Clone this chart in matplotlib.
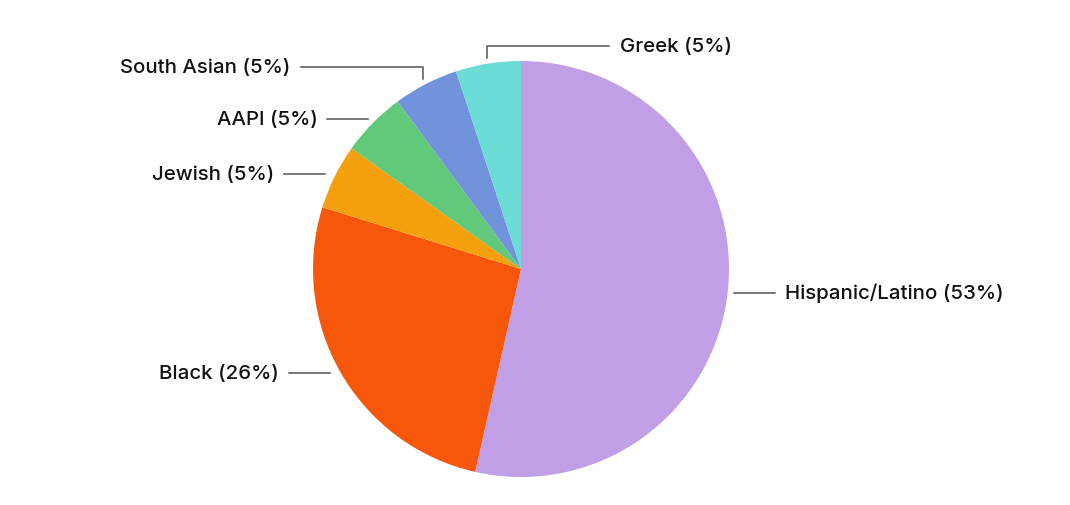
import numpy as np
import matplotlib.pyplot as plt

plt.rcParams["font.family"] = ["Inter", "DejaVu Sans"]

# data
groups = ["Hispanic/Latino", "Black", "Jewish", "AAPI", "South Asian", "Greek"]
shares = [53, 26, 5, 5, 5, 5]
colors = ["#C19FE6", "#F7570B", "#F5A00E", "#62C97A", "#7093DB", "#6CDCD6"]

W, H = 1070, 506
CX, CY, R = 521, H - 270, 208

fig = plt.figure(figsize=(W / 100, H / 100), dpi=100)
ax = fig.add_axes([0, 0, 1, 1])

wedges, _ = ax.pie(shares, colors=colors, startangle=90, counterclock=False,
                   center=(CX, CY), radius=R, frame=True,
                   wedgeprops=dict(linewidth=0))
ax.set_xlim(0, W)
ax.set_ylim(0, H)
ax.set_aspect("equal")
ax.axis("off")

line_kw = dict(color="#555555", lw=1.1)
text_kw = dict(va="center", fontsize=14.7, fontweight="medium", color="#111111")
elbow = {"South Asian": (12, -1), "Greek": (12, 1)}   # rise, side
# small label nudges (dx, dy) in pixels
nudge = {"Black": (-6, 3), "Jewish": (-4, 0)}
for w, g, p in zip(wedges, groups, shares):
    mid = np.deg2rad((w.theta1 + w.theta2) / 2)
    dx, dy = nudge.get(g, (0, 0))
    x0 = CX + (R + 6) * np.cos(mid) + dx
    y0 = CY + (R + 6) * np.sin(mid) + dy
    label = f"{g} ({p}%)"
    if g in elbow:
        rise, side = elbow[g]
        top = y0 + rise
        end = x0 + side * 122
        ax.plot([x0, x0, end], [y0, top, top], **line_kw)
        ax.text(end + side * 11, top, label,
                ha="left" if side > 0 else "right", **text_kw)
    else:
        side = 1 if np.cos(mid) > 0 else -1
        end = x0 + side * 41
        ax.plot([x0, end], [y0, y0], **line_kw)
        ax.text(end + side * 10, y0, label,
                ha="left" if side > 0 else "right", **text_kw)

fig.savefig("out.png", dpi=100, facecolor="white")
